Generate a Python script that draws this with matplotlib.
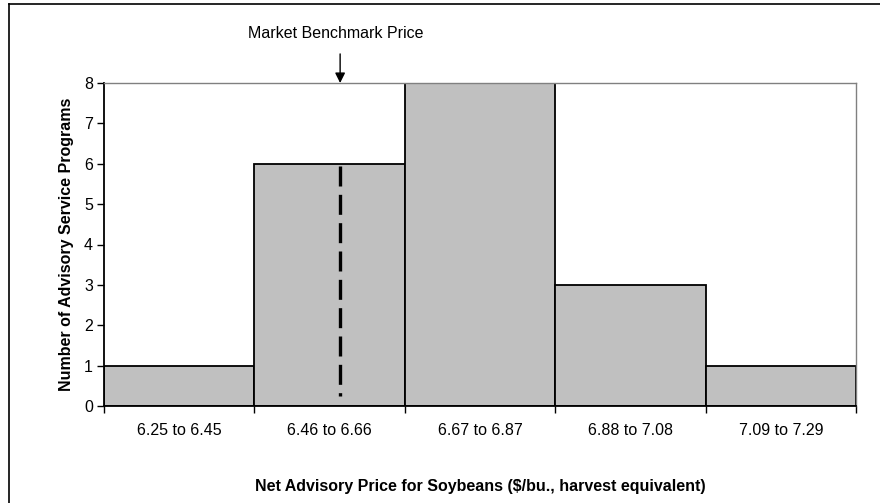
import matplotlib
matplotlib.use("Agg")
import matplotlib.pyplot as plt
from matplotlib.lines import Line2D
import numpy as np

categories = ["6.25 to 6.45", "6.46 to 6.66", "6.67 to 6.87", "6.88 to 7.08", "7.09 to 7.29"]
counts = [1, 6, 8, 3, 1]
benchmark_pos = 1.07   # position in category units (within 6.46-6.66 bin)
benchmark_top = 5.94
benchmark_bottom = 0.25
y_ticks = [0, 1, 2, 3, 4, 5, 6, 7, 8]

plt.rcParams['font.family'] = ['Liberation Sans', 'DejaVu Sans']
FS = 11.5

fig = plt.figure(figsize=(8.8, 5.03), dpi=100)
ax = fig.add_axes([104/880, 1-406/503, (856-104)/880, (406-83)/503])

x = np.arange(len(categories))
ax.bar(x, counts, width=1.0, color="#C0C0C0", edgecolor="black", linewidth=1.3, zorder=2)

ax.plot([benchmark_pos, benchmark_pos], [benchmark_top, benchmark_bottom], color="black",
        linewidth=2.4, linestyle=(0, (6, 2.5)), solid_capstyle='butt', zorder=3)

ax.set_xlim(-0.5, len(categories) - 0.5)
ax.set_ylim(0, 8)
ax.set_yticks(y_ticks)
ax.set_xticks(x)
ax.set_xticklabels(categories, fontsize=FS)
ax.set_xticks(np.arange(-0.5, len(categories)), minor=True)
ax.tick_params(axis='x', which='major', length=0, pad=12)
ax.tick_params(axis='x', which='minor', length=5, width=1, direction='out')
ax.tick_params(axis='y', length=5, width=1, direction='out', labelsize=FS, pad=3)

for s in ['top', 'right']:
    ax.spines[s].set_color('#808080')
    ax.spines[s].set_linewidth(1.0)
for s in ['left', 'bottom']:
    ax.spines[s].set_color('black')
    ax.spines[s].set_linewidth(1.3)

ax.set_ylabel("Number of Advisory Service Programs", fontsize=FS, fontweight='bold', labelpad=7)
ax.set_xlabel("Net Advisory Price for Soybeans ($/bu., harvest equivalent)", fontsize=FS,
              fontweight='bold', labelpad=30)

ax.annotate("", xy=(benchmark_pos, 8), xytext=(benchmark_pos, 8.72),
            xycoords='data', textcoords='data', annotation_clip=False,
            arrowprops=dict(arrowstyle='-|>', color='black', lw=1.0, mutation_scale=15,
                            shrinkA=0, shrinkB=0))
ax.text(benchmark_pos - 0.03, 9.22, "Market Benchmark Price", ha='center', va='center', fontsize=FS,
        clip_on=False)

# outer frame (top and left visible)
fig.add_artist(Line2D([9/880, 9/880], [0, 1-4/503], transform=fig.transFigure, color='black', lw=1.2))
fig.add_artist(Line2D([9/880, 1], [1-4/503, 1-4/503], transform=fig.transFigure, color='black', lw=1.2))

fig.savefig("out.png", dpi=100)
